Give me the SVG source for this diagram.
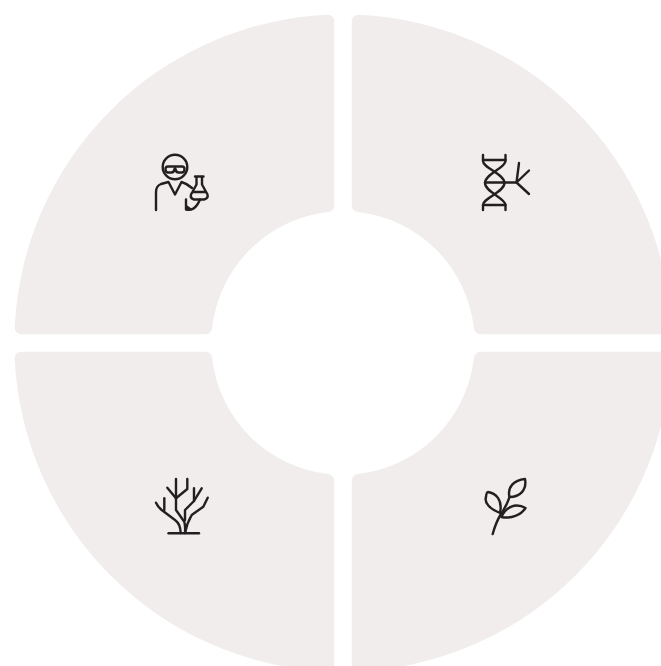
<svg xmlns="http://www.w3.org/2000/svg" width="661" height="666" viewBox="0 0 661 666">
<style>
.seg{fill:#f1eded}
.ic{fill:none;stroke:#231f20;stroke-width:2.400;stroke-linecap:round;stroke-linejoin:round}
</style>
<defs>
<path id="q" class="seg" d="M21.500 334.200H205Q211.300 334.200 212.100 328A131.500 131.500 0 0 1 328 212.100Q334.200 211.300 334.200 205V21.500Q334.200 14.600 327 14.700A328.400 328.400 0 0 0 14.700 327Q14.600 334.200 21.500 334.200Z"/>
</defs>
<rect width="661" height="666" fill="#fff"/>
<g id="segment-top-left"><use href="#q"/></g>
<g id="segment-top-right"><use href="#q" transform="rotate(90 343 343)"/></g>
<g id="segment-bottom-right"><use href="#q" transform="rotate(180 343 343)"/></g>
<g id="segment-bottom-left"><use href="#q" transform="rotate(270 343 343)"/></g>
<g id="icon-scientist" class="ic">
<circle cx="175" cy="167" r="12.300"/>
<path d="M165.500 169Q165.500 172.500 168 172.500H171.500Q174 172.500 174.500 169H175.500Q176 172.500 178.500 172.500H182Q184.500 172.500 184.500 169Q184.500 166.500 182 166.500H168Q165.500 166.500 165.500 169Z"/>
<path d="M156 210V192Q156 186 161 184L168.500 182L175 194.500L181.500 182Q187 183.500 192 188"/>
<path d="M195 176.500H203.500M196.500 177V184.500L191 194.500Q190 198.500 194 199.500H204Q208.500 198.500 207.500 194.500L202 184.500V177M192.500 192H205.500"/>
<path d="M186 199.500V209.500Q193 211 197 205Q199 202 200 199.500M186 206L190 209"/>
</g>
<g id="icon-dna" class="ic">
<path d="M483 155V161C483 168 504.500 174 504.500 183C504.500 192 483 198 483 205V210"/>
<path d="M505.500 155V161C505.500 168 485 174 485 183C485 192 505.500 198 505.500 205V210"/>
<path d="M483 160H505.500M485 182.500H516.500M483 205H505.500"/>
<path d="M516.500 182.500L519 163M516.500 182.500L529 170.500M516.500 182.500L529 194"/>
</g>
<g id="icon-coral" class="ic">
<path d="M168.500 533.300H199"/>
<path d="M180.700 533Q180.500 524 175 520L161.700 510Q158 507 156 502.700"/>
<path d="M164.300 498.300V510"/>
<path d="M185 533Q186.500 524 191.700 515L203.300 506.700L207.700 497.700"/>
<path d="M185 533Q185.500 526 184.300 521.700L176 510V479"/>
<path d="M176 498.300L167.300 487.700"/>
<path d="M176 498.300L187.300 489V479"/>
<path d="M185 520V510L194 501V488.300"/>
<path d="M194 501L201.700 488.300"/>
</g>
<g id="icon-plant" class="ic">
<path d="M492.700 534Q496 522 501 514Q507 505 509.500 497"/>
<path d="M509.500 497C507 487 514 480 525 479C527 490 520 497 509.500 497Z"/>
<path d="M500 513C490 509 484 503 486 497Q486.500 492 488 492C495 493 503 499 500 513Z"/>
<path d="M501.500 517C505 508 515 502 525.500 508C521 515 511 519 501.500 517Z"/>
</g>
</svg>
